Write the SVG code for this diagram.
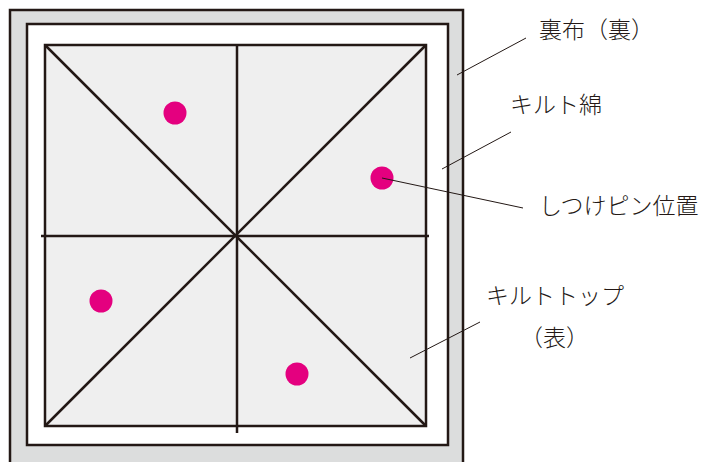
<svg xmlns="http://www.w3.org/2000/svg" width="706" height="462" viewBox="0 0 706 462">
<style>
.frame{stroke:#231815;stroke-width:2.5}
.ln{stroke:#231815;stroke-width:2.5;fill:none}
.lead{stroke:#231815;stroke-width:1;fill:none}
.pin{fill:#e4007f}
text{font-family:"Noto Sans CJK JP","Noto Sans",sans-serif;font-size:23px;font-weight:300;fill:#231815}
</style>
<g id="backing"><rect class="frame" x="10" y="10" width="453" height="470" fill="#dcdddd"/></g>
<g id="batting"><rect class="frame" x="27" y="24" width="421" height="421" fill="#ffffff"/></g>
<g id="top"><rect class="frame" x="45" y="45" width="381" height="381" fill="#efefef"/></g>
<g id="quilt-lines">
<line class="ln" x1="45" y1="45" x2="426" y2="426"/>
<line class="ln" x1="426" y1="45" x2="45" y2="426"/>
<line class="ln" x1="237" y1="44" x2="237" y2="433"/>
<line class="ln" x1="41" y1="236" x2="429" y2="236"/>
</g>
<g id="pins">
<circle class="pin" cx="175" cy="113" r="11.5"/>
<circle class="pin" cx="382" cy="178" r="11.5"/>
<circle class="pin" cx="101" cy="301" r="11.5"/>
<circle class="pin" cx="297" cy="374" r="11.5"/>
</g>
<g id="connectors">
<line class="lead" x1="457" y1="75" x2="526" y2="38"/>
<line class="lead" x1="442" y1="169" x2="511" y2="132"/>
<line class="lead" x1="382" y1="178" x2="523" y2="208"/>
<line class="lead" x1="410" y1="358" x2="480" y2="322"/>
</g>
<g id="label-backing"><text x="539" y="38">裏布（裏）</text></g>
<g id="label-batting"><text x="510" y="113">キルト綿</text></g>
<g id="label-pin"><text x="539" y="214">しつけピン位置</text></g>
<g id="label-top"><text x="486" y="304">キルトトップ</text><text x="520" y="346">（表）</text></g>
</svg>
